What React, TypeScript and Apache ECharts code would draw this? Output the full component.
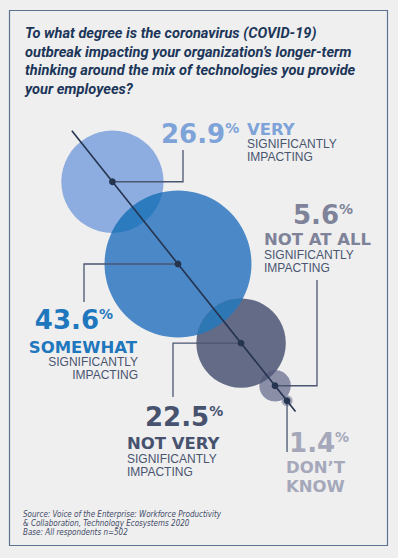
import React, { useEffect, useRef } from 'react';
import * as echarts from 'echarts';

// ---------------- data ----------------
const percentages = [26.9, 43.6, 22.5, 5.6, 1.4];
const categoryLines = [['VERY'], ['SOMEWHAT'], ['NOT VERY'], ['NOT AT ALL'], ['DON’T', 'KNOW']];
const qualifierLines = [
  ['SIGNIFICANTLY', 'IMPACTING'],
  ['SIGNIFICANTLY', 'IMPACTING'],
  ['SIGNIFICANTLY', 'IMPACTING'],
  ['SIGNIFICANTLY', 'IMPACTING'],
  [],
];
const titleLines = [
  'To what degree is the coronavirus (COVID-19)',
  'outbreak impacting your organization’s longer-term',
  'thinking around the mix of technologies you provide',
  'your employees?',
];
const sourceLines = [
  'Source: Voice of the Enterprise: Workforce Productivity',
  '& Collaboration, Technology Ecosystems 2020',
  'Base: All respondents n=502',
];

// ---------------- styles / layout ----------------
const W = 398;
const H = 558;
const BG = '#efefef';
const bubbleColors = ['#8dade0', '#4a88c7', '#646b86', '#8a8ea7', '#a5a8bb'];
const lensColors = ['#2c7bbf', '#2e77b5', '#585f7e', '#7b7f99'];
const labelColors = ['#7ea3d8', '#1f77bd', '#47526f', '#7f839a', '#a5a8ba'];
const QUAL_COLOR = '#4a5570';
const LEADER_COLOR = '#4a5570';
const AXIS_COLOR = '#25344f';

const radius = (v: number) => 4.33 * Math.pow(v, 0.75);
const ANCHOR = [178, 264];
const dirLen = Math.hypot(224, 281);
const U = [224 / dirLen, 281 / dirLen];

const radii = percentages.map(radius);
const along: number[] = [0];
for (let i = 1; i < radii.length; i++) {
  along[i] = along[i - 1] + radii[i - 1] + radii[i] - 0.38 * Math.min(radii[i - 1], radii[i]);
}
const anchorIdx = percentages.indexOf(Math.max(...percentages));
const centers = along.map((a) => {
  const t = a - along[anchorIdx];
  return [ANCHOR[0] + t * U[0], ANCHOR[1] + t * U[1]];
});

// label layout (positions of text blocks and leader elbows)
const labelLayout = [
  { numX: 161, numY: 134, numAlign: 'left', catX: 247, catY: 129.5, catAlign: 'left', catLH: 14, qualY: 143.5, qualLH: 13.5, elbowX: 183, endY: 150 },
  { numX: 113, numY: 320, numAlign: 'right', catX: 137, catY: 347.5, catAlign: 'right', catLH: 14, qualY: 361.8, qualLH: 13, elbowX: 84, endY: 302 },
  { numX: 145, numY: 417, numAlign: 'left', catX: 127, catY: 444, catAlign: 'left', catLH: 14, qualY: 459.1, qualLH: 13, elbowX: 173, endY: 397 },
  { numX: 293, numY: 215, numAlign: 'left', catX: 264, catY: 239.5, catAlign: 'left', catLH: 14, qualY: 255.3, qualLH: 13, elbowX: 317, endY: 280 },
  { numX: 288, numY: 443, numAlign: 'left', catX: 285, catY: 468, catAlign: 'left', catLH: 18.5, qualY: 0, qualLH: 13, elbowX: null as number | null, endY: 452 },
];

const BOLD_FONT = '"DejaVu Sans", "Liberation Sans", sans-serif';

function lensPath(c1: number[], r1: number, c2: number[], r2: number): string {
  const dx = c2[0] - c1[0];
  const dy = c2[1] - c1[1];
  const d = Math.hypot(dx, dy);
  const ux = dx / d;
  const uy = dy / d;
  const a = (d * d + r1 * r1 - r2 * r2) / (2 * d);
  const h = Math.sqrt(Math.max(r1 * r1 - a * a, 0));
  const mx = c1[0] + a * ux;
  const my = c1[1] + a * uy;
  const P = [mx - h * uy, my + h * ux];
  const Q = [mx + h * uy, my - h * ux];
  const M1 = [c1[0] + r1 * ux, c1[1] + r1 * uy];
  const M2 = [c2[0] - r2 * ux, c2[1] - r2 * uy];
  const cross = (o: number[], p: number[], q: number[]) =>
    (p[0] - o[0]) * (q[1] - o[1]) - (p[1] - o[1]) * (q[0] - o[0]);
  const s1 = cross(c1, P, M1) > 0 ? 1 : 0;
  const s2 = cross(c2, Q, M2) > 0 ? 1 : 0;
  const l1 = a < 0 ? 1 : 0;
  const l2 = d - a < 0 ? 1 : 0;
  const f = (p: number[]) => `${p[0].toFixed(2)} ${p[1].toFixed(2)}`;
  return `M${f(P)} A${r1.toFixed(2)} ${r1.toFixed(2)} 0 ${l1} ${s1} ${f(Q)} A${r2.toFixed(2)} ${r2.toFixed(2)} 0 ${l2} ${s2} ${f(P)} Z`;
}

function buildOption() {
  const graphics: any[] = [];

  // border
  graphics.push({
    type: 'rect',
    z: 1,
    shape: { x: 9.5, y: 10.5, width: 378, height: 535 },
    style: { fill: 'none', stroke: '#5b7291', lineWidth: 1.2 },
  });

  // title
  graphics.push({
    type: 'text',
    z: 50,
    x: 25,
    y: 33 - 18.7 / 2,
    style: {
      text: titleLines.join('\n'),
      font: 'italic bold 14.6px Roboto, "Liberation Sans", sans-serif',
      fill: '#1c3659',
      lineHeight: 18.7,
      textAlign: 'left',
      textVerticalAlign: 'top',
    },
  });

  // source
  graphics.push({
    type: 'text',
    z: 50,
    x: 23,
    y: 513.5 - 4.5,
    scaleX: 0.89,
    style: {
      text: sourceLines.join('\n'),
      font: 'italic 9px "Liberation Sans Narrow", "DejaVu Sans Condensed", "Liberation Sans", sans-serif',
      fill: '#3f4b68',
      lineHeight: 9,
      textAlign: 'left',
      textVerticalAlign: 'top',
    },
  });

  // diagonal axis line
  const first = centers[0];
  const last = centers[centers.length - 1];
  const s0 = radii[0] + 14;
  const s1 = radii[radii.length - 1] + 8;
  graphics.push({
    type: 'line',
    z: 60,
    shape: {
      x1: first[0] - s0 * U[0],
      y1: first[1] - s0 * U[1],
      x2: last[0] + s1 * U[0],
      y2: last[1] + s1 * U[1],
    },
    style: { stroke: AXIS_COLOR, lineWidth: 1.6 },
  });

  percentages.forEach((v, i) => {
    const c = centers[i];
    const L = labelLayout[i];
    // leader
    const pts =
      L.elbowX == null
        ? [[c[0], c[1]], [c[0], L.endY]]
        : [[c[0], c[1]], [L.elbowX, c[1]], [L.elbowX, L.endY]];
    graphics.push({
      type: 'polyline',
      z: 55,
      shape: { points: pts },
      style: { stroke: LEADER_COLOR, lineWidth: 1.3, fill: null },
    });
    // dot
    graphics.push({
      type: 'circle',
      z: 61,
      shape: { cx: c[0], cy: c[1], r: 3.4 },
      style: { fill: AXIS_COLOR },
    });
    // number
    const numX = L.elbowX == null ? c[0] + 2 : L.numX;
    graphics.push({
      type: 'text',
      z: 70,
      x: numX,
      y: L.numY,
      style: {
        text: `{n|${v.toFixed(1)}}{p|%}`,
        textAlign: L.numAlign,
        textVerticalAlign: 'middle',
        rich: {
          n: { font: `bold 26px ${BOLD_FONT}`, fill: labelColors[i] },
          p: { font: `bold 14px ${BOLD_FONT}`, fill: labelColors[i], verticalAlign: 'top' },
        },
      },
    });
    // category
    graphics.push({
      type: 'text',
      z: 70,
      x: L.elbowX == null ? c[0] - 1 : L.catX,
      y: L.catY - L.catLH / 2,
      scaleX: 1.1,
      style: {
        text: categoryLines[i].join('\n'),
        font: `bold 15px ${BOLD_FONT}`,
        fill: labelColors[i],
        lineHeight: L.catLH,
        textAlign: L.catAlign,
        textVerticalAlign: 'top',
      },
    });
    if (qualifierLines[i].length) {
      graphics.push({
        type: 'text',
        z: 70,
        x: L.catAlign === 'right' ? L.catX + 1 : L.catX,
        y: L.qualY - L.qualLH / 2,
        style: {
          text: qualifierLines[i].join('\n'),
          font: '12px "Liberation Sans", Arial, sans-serif',
          fill: QUAL_COLOR,
          lineHeight: L.qualLH,
          textAlign: L.catAlign,
          textVerticalAlign: 'top',
        },
      });
    }
  });

  return {
    animation: false,
    backgroundColor: BG,
    grid: { left: 0, right: 0, top: 0, bottom: 0 },
    xAxis: { type: 'value', min: 0, max: W, show: false },
    yAxis: { type: 'value', min: 0, max: H, inverse: true, show: false },
    series: [
      {
        type: 'custom',
        coordinateSystem: 'cartesian2d',
        clip: false,
        data: centers.map((c, i) => [c[0], c[1], percentages[i]]),
        renderItem: (params: any, api: any) => {
          const i = params.dataIndex;
          const c = api.coord([api.value(0), api.value(1)]);
          const r = radius(api.value(2) as number);
          const children: any[] = [
            { type: 'circle', shape: { cx: c[0], cy: c[1], r }, style: { fill: bubbleColors[i] } },
          ];
          if (i > 0) {
            const prev = centers[i - 1];
            const pc = api.coord([prev[0], prev[1]]);
            const pr = radius(percentages[i - 1]);
            children.push({
              type: 'path',
              shape: { pathData: lensPath(pc, pr, c, r) },
              style: { fill: lensColors[i - 1] },
            });
          }
          return { type: 'group', children };
        },
      },
    ],
    graphic: { elements: graphics },
  };
}

export default function App() {
  const ref = useRef<HTMLDivElement>(null);
  useEffect(() => {
    if (!ref.current) return;
    const chart = echarts.init(ref.current, null, { renderer: 'svg' });
    chart.setOption(buildOption() as any);
    return () => chart.dispose();
  }, []);
  return (
    <div
      ref={ref}
      style={{ position: 'absolute', left: 0, top: 0, width: W, height: H, background: BG }}
    />
  );
}
